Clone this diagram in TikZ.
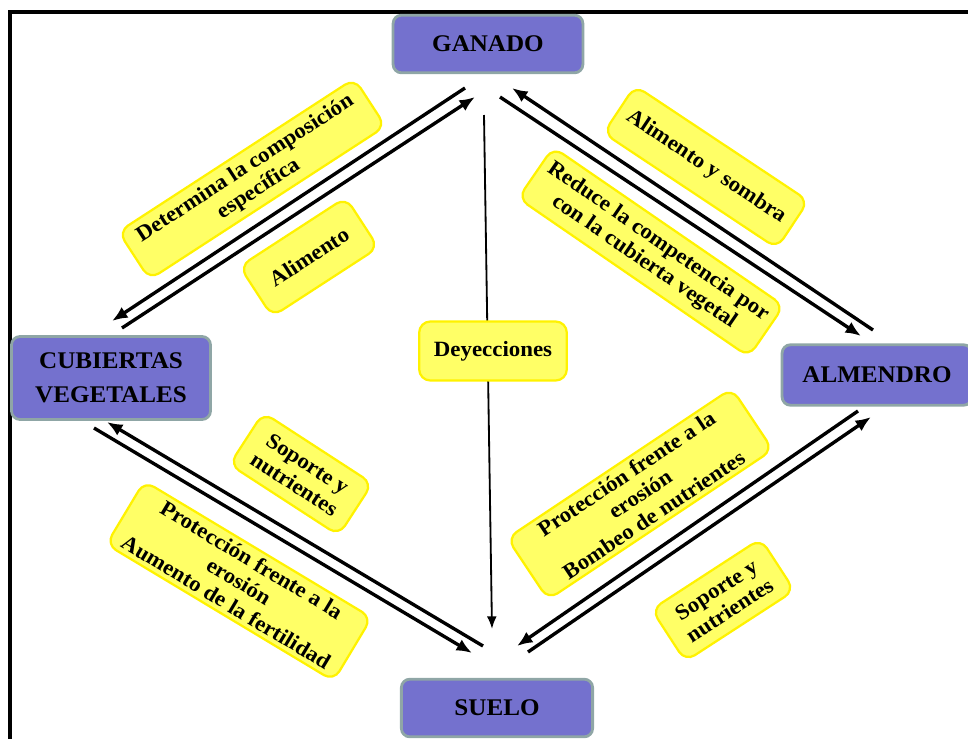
\documentclass[tikz,border=0pt]{standalone}
\usepackage{fontspec}
\setmainfont[FakeStretch=1.05]{Liberation Serif}
\usetikzlibrary{arrows.meta}
\definecolor{cajaazul}{RGB}{116,113,206}
\definecolor{bordeazul}{RGB}{143,166,166}
\definecolor{cajaamarilla}{RGB}{255,255,102}
\definecolor{bordeamarillo}{RGB}{255,242,0}
\tikzset{
	bloque/.style={draw=bordeazul, line width=2pt, fill=cajaazul, rounded corners=6pt, align=center, inner sep=0pt, font=\fontsize{17}{24}\selectfont\bfseries},
	etiqueta/.style={draw=bordeamarillo, line width=1.6pt, fill=cajaamarilla, rounded corners=8pt, align=center, inner sep=0pt, font=\fontsize{15.5}{17.5}\selectfont\bfseries},
	flecha/.style={line width=2.4pt, -{Latex[length=11pt,width=9pt]}},
	flechafina/.style={line width=1.3pt, -{Latex[length=9pt,width=7pt]}},
}

\begin{document}
\begin{tikzpicture}[x=0.025cm, y=-0.025cm]
			%%%%% START %%%%%
			\useasboundingbox (0,0) rectangle (968,738);
			
			\draw[line width=2.2pt] (10,760) -- (10,12) -- (990,12);
			
			% extremos de las flechas
			\coordinate (gancubA) at (465,88);
			\coordinate (gancubB) at (112,321);
			\coordinate (cubganA) at (122,328);
			\coordinate (cubganB) at (475,97);
			
			\coordinate (almganA) at (873,330);
			\coordinate (almganB) at (512,88);
			\coordinate (ganalmA) at (500,97);
			\coordinate (ganalmB) at (861,336);
			
			\coordinate (cubsueA) at (94,428);
			\coordinate (cubsueB) at (472,653);
			\coordinate (suecubA) at (483,646);
			\coordinate (suecubB) at (107,422);
			
			\coordinate (almsueA) at (858,411);
			\coordinate (almsueB) at (517,646);
			\coordinate (suealmA) at (528,652);
			\coordinate (suealmB) at (871,417);
			
			\coordinate (deyA) at (484,115);
			\coordinate (deyB) at (492,629);
			
			\draw[flecha] (gancubA) -- (gancubB);
			\draw[flecha] (cubganA) -- (cubganB);
			\draw[flecha] (almganA) -- (almganB);
			\draw[flecha] (ganalmA) -- (ganalmB);
			\draw[flecha] (cubsueA) -- (cubsueB);
			\draw[flecha] (suecubA) -- (suecubB);
			\draw[flecha] (almsueA) -- (almsueB);
			\draw[flecha] (suealmA) -- (suealmB);
			\draw[flechafina] (deyA) -- (deyB);
			
			% bloques
			\node[bloque, minimum width=135pt, minimum height=41pt] (ganado) at (488,44) {GANADO};
			\node[bloque, minimum width=141.5pt, minimum height=59pt] (cubiertas) at (111,378) {CUBIERTAS\\VEGETALES};
			\node[bloque, minimum width=135pt, minimum height=43pt] (almendro) at (877,375) {ALMENDRO};
			\node[bloque, minimum width=136pt, minimum height=41pt] (suelo) at (497,708) {SUELO};
			
			% etiquetas
			\node[etiqueta, minimum width=200pt, minimum height=40.5pt, rotate=33] (composicion) at (252,179) {Determina la composición\\específica};
			\node[etiqueta, minimum width=90pt, minimum height=42.5pt, rotate=33] (alimento) at (309,257) {Alimento};
			\node[etiqueta, minimum width=148pt, minimum height=40.5pt, rotate=-33.6] (sombra) at (706,167) {Alimento y sombra};
			\node[etiqueta, minimum width=199pt, minimum height=44pt, rotate=-34.5] (competencia) at (651,252) {Reduce la competencia por\\con la cubierta vegetal};
			\node[etiqueta, minimum width=105pt, minimum height=42pt] (deyecciones) at (493,351) {Deyecciones};
			\node[etiqueta, minimum width=92.5pt, minimum height=44pt, rotate=-33] (soportecub) at (301,474) {Soporte y\\nutrientes};
			\node[etiqueta, minimum width=188.5pt, minimum height=52.5pt, rotate=-31] (fertilidad) at (239,581) {Protección frente a la\\erosión\\Aumento de la fertilidad};
			\node[etiqueta, minimum width=192pt, minimum height=52.5pt, rotate=33.7] (bombeo) at (640,494) {Protección frente a la\\erosión\\Bombeo de nutrientes};
			\node[etiqueta, minimum width=92.5pt, minimum height=44pt, rotate=33] (soportealm) at (723,600) {Soporte y\\nutrientes};
			
			%%%%% END %%%%%
\end{tikzpicture}
\end{document}
